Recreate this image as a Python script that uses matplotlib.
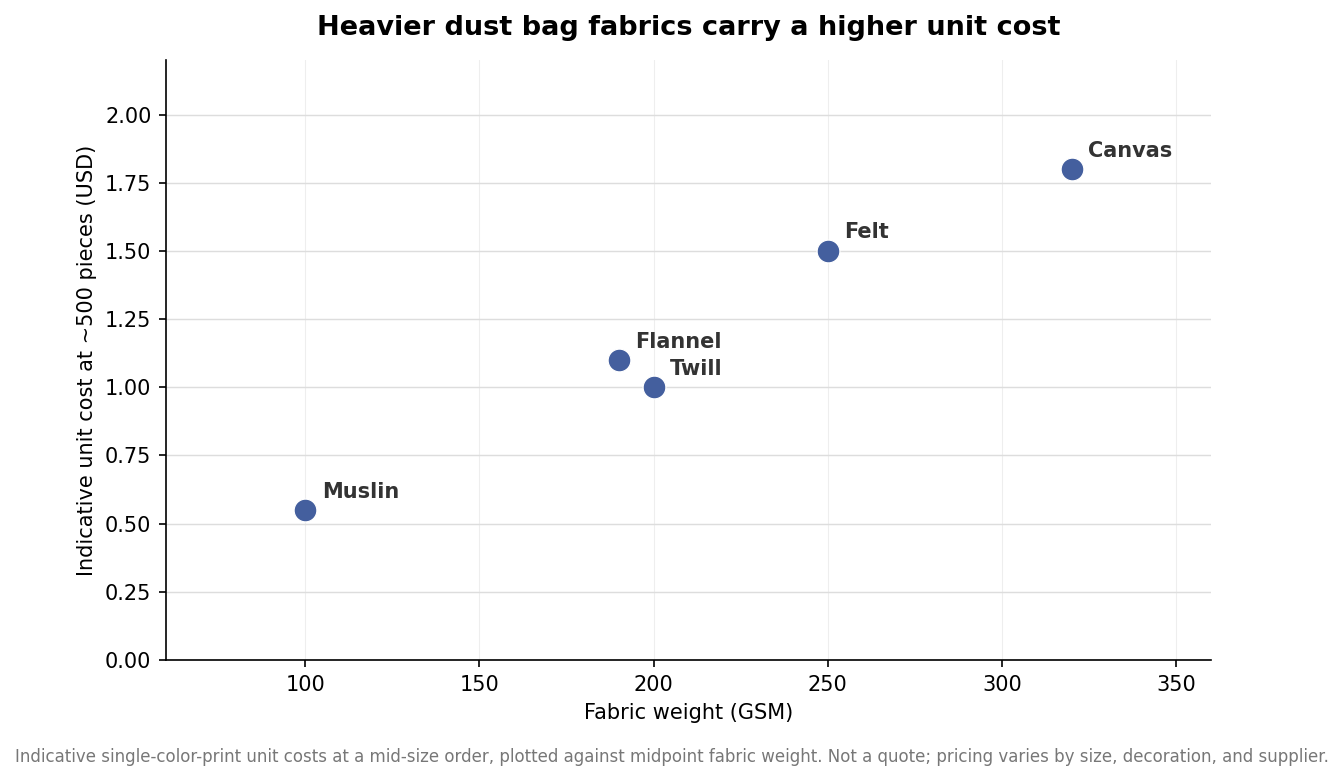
import matplotlib
matplotlib.use("Agg")
import matplotlib.pyplot as plt

fabrics = ["Muslin", "Flannel", "Twill", "Felt", "Canvas"]
gsm = [100, 190, 200, 250, 320]
cost = [0.55, 1.10, 1.00, 1.50, 1.80]

DPI = 150
fig = plt.figure(figsize=(1343 / DPI, 781 / DPI), dpi=DPI)
ax = fig.add_axes([0.1236, 0.1549, 0.778, 0.7683])

ax.scatter(gsm, cost, s=120, color="#445f9e", edgecolor="white", linewidth=0.6, zorder=3)
for name, x, y in zip(fabrics, gsm, cost):
    ax.annotate(name, (x, y), xytext=(8, 6), textcoords="offset points",
                fontsize=10, fontweight="bold", color="#333333", zorder=4)

ax.set_xlim(60, 360)
ax.set_ylim(0, 2.2)
ax.set_xticks([100, 150, 200, 250, 300, 350])
ax.set_yticks([0, 0.25, 0.5, 0.75, 1.0, 1.25, 1.5, 1.75, 2.0])
ax.yaxis.set_major_formatter(matplotlib.ticker.FormatStrFormatter("%.2f"))
ax.tick_params(labelsize=10)
ax.grid(axis="y", color="#dddddd", linewidth=0.7, zorder=0)
ax.grid(axis="x", color="#eeeeee", linewidth=0.5, zorder=0)
ax.set_axisbelow(True)
for s in ["top", "right"]:
    ax.spines[s].set_visible(False)

ax.set_xlabel("Fabric weight (GSM)", fontsize=10)
ax.set_ylabel("Indicative unit cost at ~500 pieces (USD)", fontsize=10)
ax.set_title("Heavier dust bag fabrics carry a higher unit cost", fontsize=13,
             fontweight="bold", pad=12)
fig.text(0.5, 0.019, "Indicative single-color-print unit costs at a mid-size order, plotted against midpoint fabric weight. Not a quote; pricing varies by size, decoration, and supplier.",
         ha="center", va="bottom", fontsize=8, color="#777777")

fig.savefig("out.png", dpi=DPI)
